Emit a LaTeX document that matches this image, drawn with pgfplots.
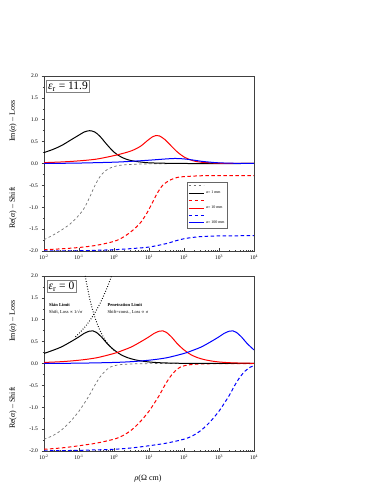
\documentclass[border=0pt]{standalone}
\usepackage{fontspec}
\setmainfont{Liberation Serif}
\newfontfamily\symfont{DejaVu Sans}
\usepackage{pgfplots}
\pgfplotsset{compat=1.18}
\usepackage{pgfplotstable}

% ---------- top panel (eps_r = 11.9) ----------
\pgfplotstableread{
L v
-2 0.25
-1.75 0.32
-1.5 0.41
-1.25 0.53
-1.0 0.65
-0.85 0.72
-0.7 0.75
-0.55 0.72
-0.4 0.62
-0.2 0.43
0.0 0.26
0.2 0.15
0.4 0.085
0.6 0.05
0.8 0.03
1.0 0.015
1.5 0.005
2 0.0
4 0.0
}\topBlackIm
\pgfplotstableread{
L v
-2 0.02
-1.5 0.035
-1 0.06
-0.5 0.10
0 0.18
0.25 0.23
0.5 0.29
0.75 0.39
0.95 0.52
1.1 0.61
1.2 0.64
1.3 0.63
1.45 0.55
1.6 0.43
1.8 0.27
2.0 0.15
2.25 0.065
2.5 0.028
3.0 0.006
3.5 0.001
4 0.0
}\topRedIm
\pgfplotstableread{
L v
-2 0.0
-1 0.01
0 0.03
0.5 0.05
1.0 0.075
1.5 0.105
1.75 0.115
2.0 0.105
2.25 0.08
2.5 0.05
2.75 0.03
3.0 0.015
3.5 0.004
4 0.0
}\topBlueIm
\pgfplotstableread{
L v
-2 -1.74
-1.75 -1.64
-1.5 -1.52
-1.25 -1.38
-1.0 -1.18
-0.85 -1.02
-0.7 -0.78
-0.55 -0.51
-0.4 -0.30
-0.25 -0.17
-0.1 -0.10
0.1 -0.05
0.4 -0.025
0.8 -0.012
1.5 -0.004
2.5 0
4 0
}\topBlackRe
\pgfplotstableread{
L v
-2 -1.97
-1.5 -1.95
-1 -1.92
-0.5 -1.87
0 -1.78
0.25 -1.69
0.5 -1.55
0.75 -1.36
0.95 -1.12
1.1 -0.89
1.25 -0.66
1.4 -0.49
1.6 -0.38
1.8 -0.32
2.0 -0.30
2.5 -0.28
3 -0.275
4 -0.275
}\topRedRe
\pgfplotstableread{
L v
-2 -2.0
-1 -1.995
0 -1.97
0.5 -1.945
1.0 -1.91
1.5 -1.83
1.75 -1.77
2.0 -1.72
2.25 -1.69
2.5 -1.67
3.0 -1.655
4 -1.65
}\topBlueRe

% ---------- bottom panel (eps_r = 0) ----------
\pgfplotstableread{
L v
-2 0.23
-1.75 0.30
-1.5 0.38
-1.25 0.49
-1 0.61
-0.85 0.69
-0.7 0.74
-0.6 0.745
-0.5 0.71
-0.35 0.60
-0.2 0.46
0 0.31
0.2 0.20
0.4 0.13
0.6 0.085
0.8 0.055
1 0.035
1.25 0.02
1.5 0.012
2 0.004
3 0.0005
4 0
}\botBlackIm
\pgfplotstableread{
L v
-2 0.024
-1.5 0.042
-1 0.075
-0.5 0.13
0 0.23
0.25 0.30
0.5 0.38
0.75 0.49
1.0 0.61
1.15 0.69
1.3 0.74
1.4 0.745
1.5 0.71
1.65 0.60
1.8 0.46
2.0 0.31
2.2 0.20
2.4 0.13
2.6 0.085
2.8 0.055
3.0 0.035
3.25 0.02
3.5 0.012
4 0.004
}\botRedIm
\pgfplotstableread{
L v
-2 0.0024
-1 0.0075
0 0.024
0.5 0.042
1 0.075
1.5 0.13
2 0.23
2.25 0.30
2.5 0.38
2.75 0.49
3 0.61
3.15 0.69
3.3 0.74
3.4 0.745
3.5 0.71
3.65 0.60
3.8 0.46
4 0.31
}\botBlueIm
\pgfplotstableread{
L v
-2 -1.73
-1.75 -1.65
-1.5 -1.52
-1.25 -1.33
-1 -1.09
-0.85 -0.91
-0.7 -0.72
-0.55 -0.50
-0.4 -0.31
-0.25 -0.17
-0.1 -0.08
0.1 -0.035
0.3 -0.018
0.6 -0.008
1 -0.003
2 0
4 0
}\botBlackRe
\pgfplotstableread{
L v
-2 -1.96
-1.5 -1.93
-1 -1.88
-0.5 -1.82
0 -1.73
0.25 -1.65
0.5 -1.52
0.75 -1.33
1 -1.09
1.15 -0.91
1.3 -0.72
1.45 -0.50
1.6 -0.31
1.75 -0.17
1.9 -0.08
2.1 -0.035
2.3 -0.018
2.6 -0.008
3 -0.003
4 0
}\botRedRe
\pgfplotstableread{
L v
-2 -1.995
-1 -1.985
0 -1.96
0.5 -1.93
1 -1.88
1.5 -1.82
2 -1.73
2.25 -1.65
2.5 -1.52
2.75 -1.33
3 -1.09
3.15 -0.91
3.3 -0.72
3.45 -0.50
3.6 -0.31
3.75 -0.17
3.9 -0.08
4 -0.055
}\botBlueRe
% asymptotes (bottom panel)
\pgfplotstableread{
L v
-1.1 0.61
-1.0 0.686
-0.8 0.865
-0.6 1.089
-0.4 1.371
-0.2 1.726
-0.07 2.0
}\skinAsym
\pgfplotstableread{
L v
-0.824 2.0
-0.7 1.504
-0.6 1.194
-0.5 0.949
-0.4 0.754
-0.3 0.599
-0.2 0.476
-0.1 0.378
0.0 0.30
}\penAsym

\pgfplotsset{
  myaxis/.style={
    scale only axis, width=210pt, height=175pt,
    xmin=-2, xmax=4, ymin=-2, ymax=2,
    xtick={-2,-1,0,1,2,3,4},
    xticklabels={10\textsuperscript{-2},10\textsuperscript{-1},10\textsuperscript{0},10\textsuperscript{1},10\textsuperscript{2},10\textsuperscript{3},10\textsuperscript{4}},
    minor xtick={-1.699,-1.523,-1.398,-1.301,-1.222,-1.155,-1.097,-1.046,
      -0.699,-0.523,-0.398,-0.301,-0.222,-0.155,-0.097,-0.046,
      0.301,0.477,0.602,0.699,0.778,0.845,0.903,0.954,
      1.301,1.477,1.602,1.699,1.778,1.845,1.903,1.954,
      2.301,2.477,2.602,2.699,2.778,2.845,2.903,2.954,
      3.301,3.477,3.602,3.699,3.778,3.845,3.903,3.954},
    ytick={-2,-1.5,-1,-0.5,0,0.5,1,1.5,2},
    yticklabels={-2.0,-1.5,-1.0,-0.5,0.0,0.5,1.0,1.5,2.0},
    minor ytick={-1.75,-1.25,-0.75,-0.25,0.25,0.75,1.25,1.75},
    xtick pos=lower, ytick pos=left,
    xtick align=inside, ytick align=outside,
    major tick length=2.5pt, minor tick length=1.3pt,
    tick label style={font=\fontsize{5.5}{6}\selectfont},
    axis line style={line width=0.8pt, black!75},
    every tick/.style={black!75, line width=0.5pt},
    clip=true,
  },
  solidl/.style={line width=1.0pt, smooth},
  dashl/.style={line width=1.0pt, smooth, dash pattern=on 3.5pt off 2.5pt},
  grayd/.style={line width=0.7pt, smooth, black!55, dash pattern=on 2.5pt off 2.5pt},
}

\begin{document}
\begin{tikzpicture}
\useasboundingbox (0,0) rectangle (374pt,484pt);

% ===== top =====
\begin{axis}[myaxis, at={(44pt,233pt)}, anchor=south west,
  legend style={at={(rel axis cs:0.681,0.394)}, anchor=north west,
    font=\fontsize{4}{4.5}\selectfont, draw=black!60,
    inner sep=0.8pt, row sep=0.6pt, cells={anchor=west}},
  legend image code/.code={\draw[#1, line width=1pt] (0pt,0pt) -- (15pt,0pt);}]
\addplot[grayd] table[x=L,y=v]{\topBlackRe};
\addlegendentry{\mbox{}}
\addplot[solidl, black] table[x=L,y=v]{\topBlackIm};
\addlegendentry{{\itshape a}= 1 mm}
\addplot[dashl, red] table[x=L,y=v]{\topRedRe};
\addlegendentry{\mbox{}}
\addplot[solidl, red] table[x=L,y=v]{\topRedIm};
\addlegendentry{{\itshape a}= 10 mm}
\addplot[dashl, blue] table[x=L,y=v]{\topBlueRe};
\addlegendentry{\mbox{}}
\addplot[solidl, blue] table[x=L,y=v]{\topBlueIm};
\addlegendentry{{\itshape a}= 100 mm}
\end{axis}

% ===== bottom =====
\begin{axis}[myaxis, at={(44pt,33pt)}, anchor=south west]
\addplot[grayd] table[x=L,y=v]{\botBlackRe};
\addplot[dashl, red] table[x=L,y=v]{\botRedRe};
\addplot[dashl, blue] table[x=L,y=v]{\botBlueRe};
\addplot[solidl, black] table[x=L,y=v]{\botBlackIm};
\addplot[solidl, red] table[x=L,y=v]{\botRedIm};
\addplot[solidl, blue] table[x=L,y=v]{\botBlueIm};
\addplot[line width=1pt, black, smooth, dash pattern=on 0.8pt off 1.8pt] table[x=L,y=v]{\skinAsym};
\addplot[line width=1pt, black, smooth, dash pattern=on 0.8pt off 1.8pt] table[x=L,y=v]{\penAsym};
\end{axis}

% epsilon boxes
\node[draw=black!50, line width=0.6pt, fill=white, inner sep=1.5pt, font=\fontsize{11.5}{12}\selectfont] at (68pt,397.5pt) {{\itshape ε}\textsubscript{r} = 11.9};
\node[draw=black!50, line width=0.6pt, fill=white, inner sep=1.5pt, font=\fontsize{11.5}{12}\selectfont] at (61.5pt,197.5pt) {{\itshape ε}\textsubscript{r} = 0};

% annotations
\node[anchor=west, inner sep=0pt, font=\fontsize{4.5}{5}\selectfont\bfseries] at (49pt,179.5pt) {Skin Limit};
\node[anchor=west, inner sep=0pt, font=\fontsize{4.5}{5}\selectfont] at (49pt,171.5pt) {Shift, Loss {\symfont ∝} 1/√{\itshape σ}};
\node[anchor=west, inner sep=0pt, font=\fontsize{4.5}{5}\selectfont\bfseries] at (107.5pt,179.5pt) {Penetration Limit};
\node[anchor=west, inner sep=0pt, font=\fontsize{4.5}{5}\selectfont] at (107.5pt,171.5pt) {Shift=const., Loss {\symfont ∝} {\itshape σ}};

% axis labels
\node[rotate=90, font=\fontsize{8}{9}\selectfont] at (13pt,363pt) {Im({\itshape α}) – Loss};
\node[rotate=90, font=\fontsize{8}{9}\selectfont] at (13pt,276pt) {Re({\itshape α}) – Shift};
\node[rotate=90, font=\fontsize{8}{9}\selectfont] at (13pt,163pt) {Im({\itshape α}) – Loss};
\node[rotate=90, font=\fontsize{8}{9}\selectfont] at (13pt,76pt) {Re({\itshape α}) – Shift};
\node[font=\fontsize{8}{9}\selectfont] at (148pt,5pt) {{\itshape ρ}(Ω cm)};
\end{tikzpicture}
\end{document}
